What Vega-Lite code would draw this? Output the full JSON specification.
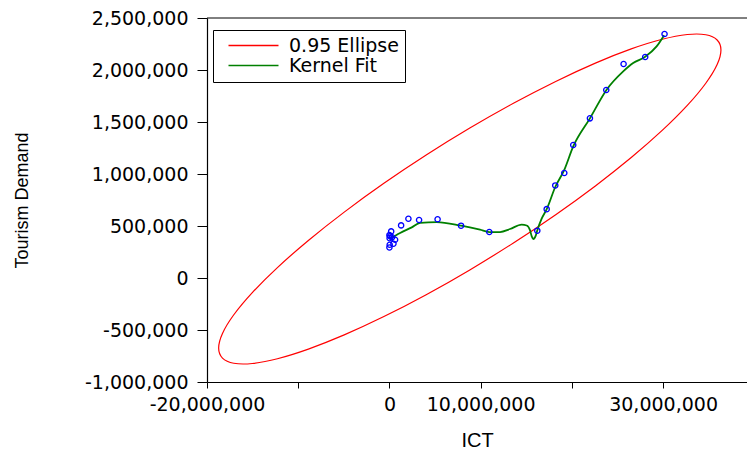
{
  "$schema": "https://vega.github.io/schema/vega-lite/v6.json",
  "width": 540,
  "height": 364,
  "autosize": {"type": "none"},
  "padding": {"left": 207, "top": 18, "right": 0, "bottom": 71},
  "background": "white",
  "config": {"view": {"stroke": null}},
  "datasets": {
    "ellipse": [
      {"t": 0, "ICT": 36344000, "TD": 2192300, "series": "0.95 Ellipse"},
      {"t": 10, "ICT": 35926000, "TD": 2052100, "series": "0.95 Ellipse"},
      {"t": 20, "ICT": 34683000, "TD": 1872700, "series": "0.95 Ellipse"},
      {"t": 30, "ICT": 32655000, "TD": 1659500, "series": "0.95 Ellipse"},
      {"t": 40, "ICT": 29902000, "TD": 1418900, "series": "0.95 Ellipse"},
      {"t": 50, "ICT": 26509000, "TD": 1158300, "series": "0.95 Ellipse"},
      {"t": 60, "ICT": 22578000, "TD": 885600, "series": "0.95 Ellipse"},
      {"t": 70, "ICT": 18228000, "TD": 609000, "series": "0.95 Ellipse"},
      {"t": 80, "ICT": 13592000, "TD": 337000, "series": "0.95 Ellipse"},
      {"t": 90, "ICT": 8811000, "TD": 77900, "series": "0.95 Ellipse"},
      {"t": 100, "ICT": 4030000, "TD": -160600, "series": "0.95 Ellipse"},
      {"t": 110, "ICT": -606000, "TD": -371000, "series": "0.95 Ellipse"},
      {"t": 120, "ICT": -4956000, "TD": -547200, "series": "0.95 Ellipse"},
      {"t": 130, "ICT": -8887000, "TD": -683500, "series": "0.95 Ellipse"},
      {"t": 140, "ICT": -12280000, "TD": -776100, "series": "0.95 Ellipse"},
      {"t": 150, "ICT": -15033000, "TD": -822100, "series": "0.95 Ellipse"},
      {"t": 160, "ICT": -17061000, "TD": -819900, "series": "0.95 Ellipse"},
      {"t": 170, "ICT": -18304000, "TD": -769700, "series": "0.95 Ellipse"},
      {"t": 180, "ICT": -18722000, "TD": -673100, "series": "0.95 Ellipse"},
      {"t": 190, "ICT": -18304000, "TD": -532900, "series": "0.95 Ellipse"},
      {"t": 200, "ICT": -17061000, "TD": -353500, "series": "0.95 Ellipse"},
      {"t": 210, "ICT": -15033000, "TD": -140300, "series": "0.95 Ellipse"},
      {"t": 220, "ICT": -12280000, "TD": 100300, "series": "0.95 Ellipse"},
      {"t": 230, "ICT": -8887000, "TD": 360900, "series": "0.95 Ellipse"},
      {"t": 240, "ICT": -4956000, "TD": 633600, "series": "0.95 Ellipse"},
      {"t": 250, "ICT": -606000, "TD": 910200, "series": "0.95 Ellipse"},
      {"t": 260, "ICT": 4030000, "TD": 1182200, "series": "0.95 Ellipse"},
      {"t": 270, "ICT": 8811000, "TD": 1441300, "series": "0.95 Ellipse"},
      {"t": 280, "ICT": 13592000, "TD": 1679800, "series": "0.95 Ellipse"},
      {"t": 290, "ICT": 18228000, "TD": 1890200, "series": "0.95 Ellipse"},
      {"t": 300, "ICT": 22578000, "TD": 2066400, "series": "0.95 Ellipse"},
      {"t": 310, "ICT": 26509000, "TD": 2202700, "series": "0.95 Ellipse"},
      {"t": 320, "ICT": 29902000, "TD": 2295300, "series": "0.95 Ellipse"},
      {"t": 330, "ICT": 32655000, "TD": 2341300, "series": "0.95 Ellipse"},
      {"t": 340, "ICT": 34683000, "TD": 2339100, "series": "0.95 Ellipse"},
      {"t": 350, "ICT": 35926000, "TD": 2288900, "series": "0.95 Ellipse"}
    ],
    "kernel": [
      {"ICT": 0, "TD": 372000, "series": "Kernel Fit"},
      {"ICT": 1170000, "TD": 433000, "series": "Kernel Fit"},
      {"ICT": 2450000, "TD": 487000, "series": "Kernel Fit"},
      {"ICT": 3360000, "TD": 530000, "series": "Kernel Fit"},
      {"ICT": 5190000, "TD": 538000, "series": "Kernel Fit"},
      {"ICT": 7850000, "TD": 503000, "series": "Kernel Fit"},
      {"ICT": 9930000, "TD": 464000, "series": "Kernel Fit"},
      {"ICT": 10950000, "TD": 442000, "series": "Kernel Fit"},
      {"ICT": 12130000, "TD": 442000, "series": "Kernel Fit"},
      {"ICT": 13220000, "TD": 471000, "series": "Kernel Fit"},
      {"ICT": 14500000, "TD": 513000, "series": "Kernel Fit"},
      {"ICT": 15050000, "TD": 505000, "series": "Kernel Fit"},
      {"ICT": 15410000, "TD": 460000, "series": "Kernel Fit"},
      {"ICT": 15600000, "TD": 400000, "series": "Kernel Fit"},
      {"ICT": 15770000, "TD": 375000, "series": "Kernel Fit"},
      {"ICT": 16040000, "TD": 407000, "series": "Kernel Fit"},
      {"ICT": 16210000, "TD": 458000, "series": "Kernel Fit"},
      {"ICT": 16690000, "TD": 570000, "series": "Kernel Fit"},
      {"ICT": 17240000, "TD": 662000, "series": "Kernel Fit"},
      {"ICT": 18180000, "TD": 875000, "series": "Kernel Fit"},
      {"ICT": 19170000, "TD": 1040000, "series": "Kernel Fit"},
      {"ICT": 20150000, "TD": 1265000, "series": "Kernel Fit"},
      {"ICT": 21980000, "TD": 1535000, "series": "Kernel Fit"},
      {"ICT": 23810000, "TD": 1811000, "series": "Kernel Fit"},
      {"ICT": 25630000, "TD": 1987000, "series": "Kernel Fit"},
      {"ICT": 26720000, "TD": 2067000, "series": "Kernel Fit"},
      {"ICT": 28000000, "TD": 2125000, "series": "Kernel Fit"},
      {"ICT": 29290000, "TD": 2227000, "series": "Kernel Fit"},
      {"ICT": 30120000, "TD": 2335000, "series": "Kernel Fit"}
    ],
    "points": [
      {"ICT": 30160000, "TD": 2346000},
      {"ICT": 28040000, "TD": 2125000},
      {"ICT": 25670000, "TD": 2058000},
      {"ICT": 23770000, "TD": 1808000},
      {"ICT": 21980000, "TD": 1535000},
      {"ICT": 20150000, "TD": 1279000},
      {"ICT": 19170000, "TD": 1010000},
      {"ICT": 18180000, "TD": 890000},
      {"ICT": 17240000, "TD": 662000},
      {"ICT": 16210000, "TD": 455000},
      {"ICT": 10950000, "TD": 442000},
      {"ICT": 7850000, "TD": 503000},
      {"ICT": 5280000, "TD": 565000},
      {"ICT": 3250000, "TD": 558000},
      {"ICT": 2080000, "TD": 570000},
      {"ICT": 1280000, "TD": 506000},
      {"ICT": 190000, "TD": 448000},
      {"ICT": 0, "TD": 412000},
      {"ICT": 80000, "TD": 402000},
      {"ICT": 300000, "TD": 392000},
      {"ICT": 20000, "TD": 383000},
      {"ICT": 620000, "TD": 368000},
      {"ICT": 440000, "TD": 330000},
      {"ICT": 30000, "TD": 320000},
      {"ICT": 0, "TD": 294000}
    ]
  },
  "layer": [
    {
      "data": {"values": [{}]},
      "mark": {"type": "rule", "color": "black", "strokeWidth": 1},
      "encoding": {"y": {"datum": 2500000, "type": "quantitative"}}
    },
    {
      "data": {"name": "ellipse"},
      "mark": {"type": "line", "interpolate": "cardinal-closed", "strokeWidth": 1.2},
      "encoding": {
        "x": {
          "field": "ICT", "type": "quantitative",
          "scale": {"domain": [-20000000, 39200000], "nice": false, "zero": false},
          "axis": {
            "title": "ICT",
            "values": [-20000000, -10000000, 0, 10000000, 20000000, 30000000],
            "format": ",d",
            "labelExpr": "datum.value == -10000000 || datum.value == 20000000 ? '' : replace(datum.label, '\u2212', '-')",
            "labelOverlap": false, "labelFlush": false, "labelBound": false,
            "grid": false, "domainColor": "black", "domainWidth": 1.2,
            "tickColor": "black", "tickSize": 6, "tickWidth": 1,
            "labelFont": "DejaVu Sans", "labelFontSize": 19, "labelColor": "black", "labelPadding": 7,
            "titleFont": "Liberation Sans", "titleFontSize": 20, "titleFontWeight": "normal", "titleColor": "black",
            "titleY": 58, "titleBaseline": "middle"
          }
        },
        "y": {
          "field": "TD", "type": "quantitative",
          "scale": {"domain": [-1000000, 2500000], "nice": false, "zero": false},
          "axis": {
            "title": "Tourism Demand",
            "values": [-1000000, -500000, 0, 500000, 1000000, 1500000, 2000000, 2500000],
            "format": ",d",
            "labelExpr": "replace(datum.label, '\u2212', '-')",
            "labelOverlap": false, "labelFlush": false, "labelBound": false,
            "grid": false, "domainColor": "black", "domainWidth": 1.2,
            "tickColor": "black", "tickSize": 10, "tickWidth": 1,
            "labelFont": "DejaVu Sans", "labelFontSize": 19, "labelColor": "black", "labelPadding": 9,
            "titleFont": "Liberation Sans", "titleFontSize": 18, "titleFontWeight": "normal", "titleColor": "black",
            "titleX": -185, "titleY": 182, "titleAngle": -90, "titleAlign": "center", "titleBaseline": "middle"
          }
        },
        "order": {"field": "t", "type": "quantitative"},
        "color": {
          "field": "series", "type": "nominal",
          "scale": {"domain": ["0.95 Ellipse", "Kernel Fit"], "range": ["#ff0000", "#008000"]},
          "legend": {
            "title": null, "orient": "none", "legendX": 6, "legendY": 12,
            "symbolType": "M0,0H10", "symbolSize": 100, "symbolStrokeWidth": 1.5,
            "labelFont": "DejaVu Sans", "labelFontSize": 19, "labelColor": "black", "labelOffset": 51,
            "strokeColor": "black", "fillColor": "white", "padding": 6, "rowPadding": -2
          }
        }
      }
    },
    {
      "data": {"name": "kernel"},
      "mark": {"type": "line", "interpolate": "monotone", "strokeWidth": 1.8},
      "encoding": {
        "x": {"field": "ICT", "type": "quantitative"},
        "y": {"field": "TD", "type": "quantitative"},
        "color": {"field": "series", "type": "nominal"}
      }
    },
    {
      "data": {"name": "points"},
      "mark": {"type": "point", "shape": "circle", "filled": false, "color": "#0000ff", "size": 28, "strokeWidth": 1.3, "opacity": 1},
      "encoding": {
        "x": {"field": "ICT", "type": "quantitative"},
        "y": {"field": "TD", "type": "quantitative"}
      }
    }
  ]
}
